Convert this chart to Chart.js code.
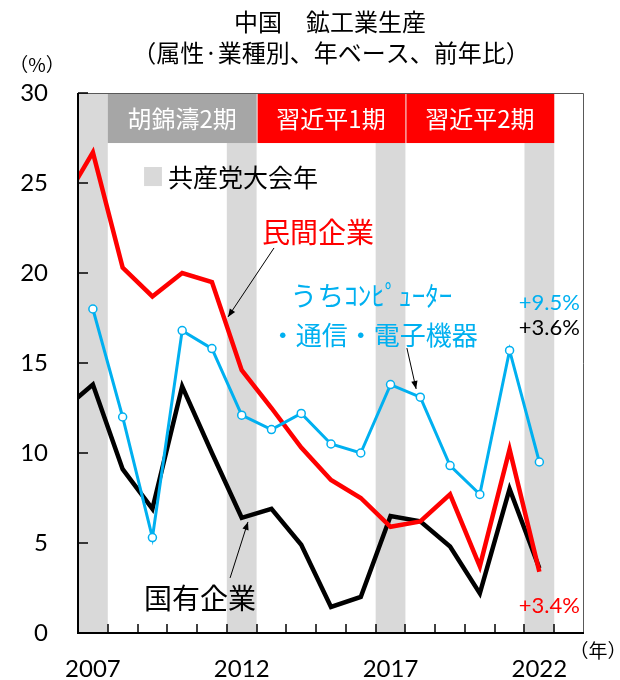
<!DOCTYPE html>
<html>
<head>
<meta charset="utf-8">
<script src="https://cdn.jsdelivr.net/npm/chart.js@4.4.1/dist/chart.umd.min.js"></script>
<style>
html,body{margin:0;padding:0;background:#fff;}
#wrap{width:620px;height:680px;position:relative;}
</style>
</head>
<body>
<div id="wrap"><canvas id="c" width="620" height="680"></canvas></div>
<script>
// ---- data ----
const years = [2006,2007,2008,2009,2010,2011,2012,2013,2014,2015,2016,2017,2018,2019,2020,2021,2022];
const privateEnterprise = [23.9,26.7,20.3,18.7,20.0,19.5,14.6,12.5,10.3,8.5,7.5,5.9,6.2,7.7,3.7,10.2,3.4];
const stateEnterprise   = [12.4,13.8,9.1,6.9,13.7,10.0,6.4,6.9,4.9,1.45,2.0,6.5,6.2,4.8,2.2,8.0,3.6];
const computerElectronics = [null,18.0,12.0,5.3,16.8,15.8,12.1,11.3,12.2,10.5,10.0,13.8,13.1,9.3,7.7,15.7,9.5];
const xTickLabels = [2007,2012,2017,2022];
const yTickValues = [0,5,10,15,20,25,30];
const partyCongressYears = [2007,2012,2017,2022];
const periodLabels = ['胡錦濤2期','習近平1期','習近平2期'];
const periodStart  = [2007.5,2012.5,2017.5];
const periodEnd    = [2012.5,2017.5,2022.5];
const periodColors = ['#a6a6a6','#ff0000','#ff0000'];
const endLabels = ['+9.5%','+3.6%','+3.4%'];

const JP = '"Noto Sans CJK JP","Noto Sans CJK SC",sans-serif';
const NUM = 'Lato,"Open Sans",sans-serif';

function P(chart, x, y){ return [chart.scales.x.getPixelForValue(x), chart.scales.y.getPixelForValue(y)]; }

function arrow(ctx, x1, y1, x2, y2){
  ctx.save();
  ctx.strokeStyle = '#000'; ctx.fillStyle = '#000'; ctx.lineWidth = 1;
  ctx.beginPath(); ctx.moveTo(x1,y1); ctx.lineTo(x2,y2); ctx.stroke();
  const a = Math.atan2(y2-y1, x2-x1), L = 8, W = 3.2;
  ctx.beginPath();
  ctx.moveTo(x2,y2);
  ctx.lineTo(x2 - L*Math.cos(a) + W*Math.sin(a), y2 - L*Math.sin(a) - W*Math.cos(a));
  ctx.lineTo(x2 - L*Math.cos(a) - W*Math.sin(a), y2 - L*Math.sin(a) + W*Math.cos(a));
  ctx.closePath(); ctx.fill();
  ctx.restore();
}

const decor = {
  id:'decor',
  beforeDatasetsDraw(chart){
    const {ctx, chartArea:a, scales:{x,y}} = chart;
    ctx.save();
    // party congress year bands
    ctx.fillStyle = '#d9d9d9';
    partyCongressYears.forEach(yr=>{
      const l = x.getPixelForValue(yr-0.5), r = x.getPixelForValue(yr+0.5);
      ctx.fillRect(l, a.top, r-l, a.bottom-a.top);
    });
    // period boxes
    const bt = y.getPixelForValue(30), bb = y.getPixelForValue(27.22);
    periodLabels.forEach((lab,i)=>{
      const l = x.getPixelForValue(periodStart[i]), r = x.getPixelForValue(periodEnd[i]);
      ctx.fillStyle = periodColors[i];
      ctx.fillRect(l+(i>0?1:0), bt, r-l-(i>0?1:0), bb-bt);
      ctx.fillStyle = '#fff';
      ctx.font = '24px '+JP; ctx.textAlign='center'; ctx.textBaseline='middle';
      ctx.fillText(lab, (l+r)/2, (bt+bb)/2+1);
    });
    // legend
    const [lx1, ly1] = P(chart, 2008.72, 25.89), [lx2, ly2] = P(chart, 2009.32, 24.83);
    ctx.fillStyle = '#d9d9d9';
    ctx.fillRect(lx1, ly1, lx2-lx1, ly2-ly1);
    ctx.fillStyle = '#000'; ctx.font = '25px '+JP; ctx.textAlign='left'; ctx.textBaseline='middle';
    ctx.fillText('共産党大会年', lx2+6, (ly1+ly2)/2+1);
    ctx.restore();
  },
  afterDraw(chart){
    const {ctx, chartArea:a, scales:{x,y}} = chart;
    ctx.save();
    // plot border
    ctx.strokeStyle = '#595959'; ctx.lineWidth = 1;
    ctx.beginPath(); ctx.moveTo(a.left, a.top+0.5); ctx.lineTo(a.right-0.5, a.top+0.5); ctx.lineTo(a.right-0.5, a.bottom); ctx.stroke();
    // axes
    ctx.strokeStyle = '#000'; ctx.lineWidth = 2;
    ctx.beginPath(); ctx.moveTo(a.left, a.top); ctx.lineTo(a.left, a.bottom); ctx.lineTo(a.right, a.bottom); ctx.stroke();
    // inward ticks
    ctx.lineWidth = 1.5;
    yTickValues.forEach(v=>{
      const py = Math.round(y.getPixelForValue(v));
      ctx.beginPath(); ctx.moveTo(a.left, py); ctx.lineTo(a.left+10, py); ctx.stroke();
    });
    for (let k = years[1]+0.5; k < x.max; k += 1){
      const px = Math.round(x.getPixelForValue(k));
      ctx.beginPath(); ctx.moveTo(px, a.bottom); ctx.lineTo(px, a.bottom-9); ctx.stroke();
    }
    // titles
    ctx.fillStyle = '#000'; ctx.textAlign='center'; ctx.textBaseline='middle';
    ctx.font = '24px '+JP;
    ctx.fillText('中国　鉱工業生産', 330, 22);
    ctx.fillText('（属性·業種別、年ベース、前年比）', 331, 53);
    ctx.font = '19px '+JP;
    ctx.fillText('（%）', 37, 65);
    ctx.fillText('（年）', 598, 651);
    // series labels
    ctx.font = '28px '+JP;
    ctx.fillStyle = '#ff0000';
    let p = P(chart, 2014.56, 22.28); ctx.fillText('民間企業', p[0], p[1]);
    ctx.fillStyle = '#000';
    p = P(chart, 2010.6, 1.94); ctx.fillText('国有企業', p[0], p[1]);
    ctx.fillStyle = '#00b0f0'; ctx.font = '27px '+JP;
    p = P(chart, 2016.35, 18.72); ctx.fillText('うちｺﾝﾋﾟｭｰﾀｰ', p[0], p[1]);
    ctx.font = '26px '+JP;
    p = P(chart, 2016.44, 16.56); ctx.fillText('・通信・電子機器', p[0], p[1]);
    // arrows
    let s = P(chart, 2013.085, 21.39), e = P(chart, 2011.54, 17.56); arrow(ctx, s[0], s[1], e[0], e[1]);
    s = P(chart, 2017.55, 15.83); e = P(chart, 2017.86, 13.56); arrow(ctx, s[0], s[1], e[0], e[1]);
    s = P(chart, 2011.61, 3.06); e = P(chart, 2012.21, 6.17); arrow(ctx, s[0], s[1], e[0], e[1]);
    // end value labels
    ctx.font = '22px '+NUM; ctx.textAlign='right';
    ctx.fillStyle = '#00b0f0'; p = P(chart, 2023.36, 18.33); ctx.fillText(endLabels[0], p[0], p[1]);
    ctx.fillStyle = '#000';    p = P(chart, 2023.36, 16.94); ctx.fillText(endLabels[1], p[0], p[1]);
    ctx.fillStyle = '#ff0000'; p = P(chart, 2023.36, 1.5);   ctx.fillText(endLabels[2], p[0], p[1]);
    ctx.restore();
  }
};

const toXY = arr => years.map((yr,i)=>({x:yr, y:arr[i]}));

new Chart(document.getElementById('c'), {
  type:'line',
  data:{
    datasets:[
      {label:'うちコンピューター・通信・電子機器', data:toXY(computerElectronics), borderColor:'#00b0f0', borderWidth:3,
       pointRadius:4, pointBackgroundColor:'#fff', pointBorderColor:'#00b0f0', pointBorderWidth:1.5, tension:0, order:1, clip:0},
      {label:'民間企業', data:toXY(privateEnterprise), borderColor:'#ff0000', borderWidth:4.5, pointRadius:0, tension:0, order:2, clip:0, borderJoinStyle:'miter'},
      {label:'国有企業', data:toXY(stateEnterprise), borderColor:'#000000', borderWidth:4.5, pointRadius:0, tension:0, order:3, clip:0, borderJoinStyle:'miter'}
    ]
  },
  options:{
    responsive:false, animation:false, devicePixelRatio:1,
    layout:{padding:{top:93, right:36, left:0, bottom:0}},
    plugins:{legend:{display:false}, tooltip:{enabled:false}, title:{display:false}},
    scales:{
      x:{type:'linear', min:2006.5, max:2023.5,
         grid:{display:false, drawTicks:false}, border:{display:false},
         afterBuildTicks:s=>{ s.ticks = xTickLabels.map(v=>({value:v})); },
         afterFit:s=>{ s.height = 47; },
         ticks:{padding:22, autoSkip:false, maxRotation:0, color:'#000', font:{family:NUM, size:24}, callback:v=>String(v)}},
      y:{min:0, max:30,
         grid:{display:false, drawTicks:false}, border:{display:false},
         afterBuildTicks:s=>{ s.ticks = yTickValues.map(v=>({value:v})); },
         afterFit:s=>{ s.width = 78; },
         ticks:{padding:30, color:'#000', font:{family:NUM, size:24}, callback:v=>String(v)}}
    }
  },
  plugins:[decor]
});
</script>
</body>
</html>
